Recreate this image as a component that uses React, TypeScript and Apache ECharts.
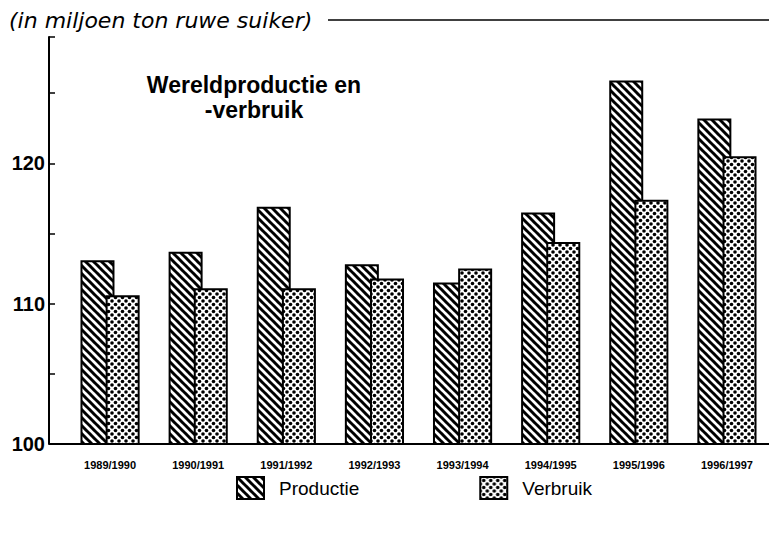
import React, { useEffect, useRef } from "react";
import * as echarts from "echarts";

const categories = ["1989/1990", "1990/1991", "1991/1992", "1992/1993", "1993/1994", "1994/1995", "1995/1996", "1996/1997"];
const productie = [113.1, 113.7, 116.9, 112.8, 111.5, 116.5, 125.9, 123.2];
const verbruik = [110.6, 111.1, 111.1, 111.8, 112.5, 114.4, 117.4, 120.5];
const yMin = 100;
const yMax = 129;

function stripeTile(): string {
  const c = document.createElement("canvas");
  const s = 8;
  c.width = s; c.height = s;
  const ctx = c.getContext("2d")!;
  ctx.fillStyle = "#fff";
  ctx.fillRect(0, 0, s, s);
  ctx.strokeStyle = "#000";
  ctx.lineWidth = 3;
  for (const o of [-s, 0, s]) {
    ctx.beginPath();
    ctx.moveTo(o - 1, -1);
    ctx.lineTo(o + s + 1, s + 1);
    ctx.stroke();
  }
  return c.toDataURL();
}

function dotTile(): string {
  const c = document.createElement("canvas");
  const s = 7;
  c.width = s; c.height = s;
  const ctx = c.getContext("2d")!;
  ctx.fillStyle = "#fff";
  ctx.fillRect(0, 0, s, s);
  ctx.fillStyle = "#000";
  const dots = [[0, 0], [s, 0], [0, s], [s, s], [s / 2, s / 2]];
  for (const [x, y] of dots) {
    ctx.beginPath();
    ctx.arc(x, y, 1.8, 0, Math.PI * 2);
    ctx.fill();
  }
  return c.toDataURL();
}

export default function App() {
  const ref = useRef<HTMLDivElement>(null);
  useEffect(() => {
    if (!ref.current) return;
    const chart = echarts.init(ref.current, undefined, { renderer: "svg" });
    const stripes = { image: stripeTile(), repeat: "repeat" };
    const dots = { image: dotTile(), repeat: "repeat" };
    const font = "'Liberation Sans', Arial, Helvetica, sans-serif";
    chart.setOption({
      animation: false,
      backgroundColor: "#fff",
      title: [
        {
          text: "(in miljoen ton ruwe suiker)",
          left: 4,
          top: 4,
          textStyle: { fontFamily: "'DejaVu Sans', sans-serif", fontStyle: "italic", fontWeight: "normal", fontSize: 22, color: "#000" },
        },
        {
          text: "Wereldproductie en\n-verbruik",
          left: 249,
          top: 67,
          textAlign: "center",
          textStyle: { fontFamily: font, fontWeight: "bold", fontSize: 23, lineHeight: 25, color: "#000" },
        },
      ],
      graphic: [
        { type: "line", shape: { x1: 328, y1: 20, x2: 777, y2: 20 }, style: { stroke: "#000", lineWidth: 1.5 } },
        { type: "line", shape: { x1: 49, y1: 444, x2: 777, y2: 444 }, style: { stroke: "#000", lineWidth: 2 } },
      ],
      legend: {
        left: 236,
        top: 476,
        padding: 0,
        itemWidth: 27,
        itemHeight: 22,
        itemGap: 120,
        icon: "rect",
        textStyle: { fontFamily: font, fontSize: 19, color: "#000", padding: [14, 0, 0, 10] },
        data: ["Productie", "Verbruik"],
      },
      grid: { left: 66, right: 6, top: 37, bottom: 89 },
      xAxis: {
        type: "category",
        data: categories,
        axisLine: { show: false },
        axisTick: { show: false },
        axisLabel: {
          fontFamily: "'Liberation Sans Narrow', 'Arial Narrow', " + font,
          fontSize: 11,
          fontWeight: "bold",
          color: "#000",
          margin: 15,
          interval: 0,
        },
      },
      yAxis: {
        type: "value",
        min: yMin,
        max: yMax,
        interval: 5,
        offset: 17,
        splitLine: { show: false },
        axisLine: { show: true, lineStyle: { color: "#000", width: 2 } },
        axisTick: { show: true, inside: true, length: 6, lineStyle: { color: "#000", width: 1.5 } },
        axisLabel: {
          fontFamily: font,
          fontSize: 20,
          fontWeight: "bold",
          color: "#000",
          margin: 4,
          formatter: (v: number) => (v % 10 === 0 ? String(v) : ""),
        },
      },
      series: [
        {
          name: "Productie",
          type: "bar",
          data: productie,
          barWidth: 34,
          barGap: "-26%",
          itemStyle: { color: stripes, borderColor: "#000", borderWidth: 2 },
        },
        {
          name: "Verbruik",
          type: "bar",
          data: verbruik,
          barWidth: 34,
          itemStyle: { color: dots, borderColor: "#000", borderWidth: 2 },
        },
      ],
    });
    return () => chart.dispose();
  }, []);
  return <div ref={ref} style={{ width: 777, height: 533, margin: -8 }} />;
}
